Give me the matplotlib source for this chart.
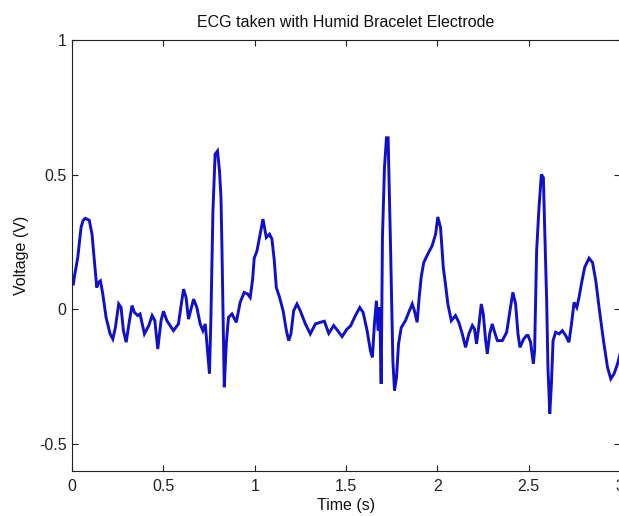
import matplotlib
matplotlib.use("Agg")
import matplotlib.pyplot as plt
from matplotlib.ticker import FuncFormatter

plt.rcParams['font.family'] = ['Liberation Sans', 'DejaVu Sans']
plt.rcParams['axes.unicode_minus'] = False

title = "ECG taken with Humid Bracelet Electrode"
x_label = "Time (s)"
y_label = "Voltage (V)"

time_s = [
    0.007, 0.012, 0.031, 0.049, 0.060, 0.072, 0.094, 0.109, 0.122, 0.135,
    0.144, 0.155, 0.168, 0.186, 0.208, 0.223, 0.237, 0.255, 0.268, 0.281,
    0.296, 0.314, 0.328, 0.341, 0.359, 0.372, 0.396, 0.420, 0.438, 0.453,
    0.469, 0.487, 0.500, 0.519, 0.555, 0.582, 0.610, 0.624, 0.637, 0.665,
    0.683, 0.701, 0.716, 0.729, 0.738, 0.752, 0.760, 0.771, 0.783, 0.796,
    0.807, 0.815, 0.820, 0.826, 0.833, 0.844, 0.856, 0.875, 0.899, 0.920,
    0.942, 0.961, 0.975, 0.988, 0.997, 1.012, 1.026, 1.045, 1.063, 1.081,
    1.094, 1.107, 1.118, 1.136, 1.155, 1.173, 1.186, 1.198, 1.213, 1.231,
    1.249, 1.277, 1.304, 1.332, 1.359, 1.381, 1.405, 1.432, 1.454, 1.478,
    1.505, 1.524, 1.551, 1.575, 1.593, 1.615, 1.633, 1.644, 1.655, 1.666,
    1.675, 1.684, 1.692, 1.699, 1.710, 1.721, 1.730, 1.737, 1.743, 1.748,
    1.756, 1.765, 1.776, 1.787, 1.802, 1.825, 1.843, 1.862, 1.874, 1.889,
    1.900, 1.911, 1.925, 1.947, 1.971, 1.990, 2.002, 2.017, 2.032, 2.044,
    2.057, 2.076, 2.099, 2.117, 2.136, 2.154, 2.172, 2.191, 2.203, 2.214,
    2.227, 2.240, 2.251, 2.264, 2.273, 2.286, 2.300, 2.313, 2.328, 2.355,
    2.379, 2.397, 2.413, 2.428, 2.441, 2.452, 2.472, 2.488, 2.496, 2.510,
    2.525, 2.532, 2.543, 2.556, 2.569, 2.580, 2.587, 2.598, 2.605, 2.615,
    2.624, 2.633, 2.647, 2.666, 2.684, 2.702, 2.720, 2.734, 2.748, 2.763,
    2.775, 2.788, 2.806, 2.830, 2.849, 2.867, 2.885, 2.909, 2.931, 2.949,
    2.967, 2.986, 3.000,
]

voltage_v = [
    0.094, 0.119, 0.193, 0.304, 0.330, 0.338, 0.331, 0.279, 0.180, 0.081,
    0.100, 0.106, 0.057, -0.030, -0.091, -0.110, -0.067, 0.020, 0.007, -0.079,
    -0.122, -0.042, 0.014, -0.011, -0.023, -0.017, -0.091, -0.060, -0.023, -0.042,
    -0.147, -0.042, -0.007, -0.042, -0.079, -0.054, 0.075, 0.044, -0.036, 0.038,
    0.007, -0.054, -0.079, -0.054, -0.128, -0.239, -0.030, 0.366, 0.576, 0.588,
    0.514, 0.415, 0.242, -0.005, -0.289, -0.128, -0.030, -0.017, -0.048, 0.026,
    0.063, 0.057, 0.044, 0.110, 0.190, 0.217, 0.267, 0.335, 0.267, 0.279,
    0.261, 0.180, 0.081, 0.044, -0.005, -0.079, -0.116, -0.091, -0.005, 0.020,
    -0.005, -0.054, -0.091, -0.054, -0.048, -0.044, -0.089, -0.060, -0.079, -0.101,
    -0.073, -0.062, -0.023, 0.007, -0.011, -0.079, -0.153, -0.178, -0.054, 0.032,
    -0.079, 0.007, -0.276, 0.267, 0.526, 0.637, 0.637, 0.427, 0.242, 0.069,
    -0.190, -0.301, -0.252, -0.128, -0.067, -0.042, -0.011, 0.020, -0.005, -0.048,
    0.044, 0.119, 0.174, 0.205, 0.236, 0.279, 0.343, 0.304, 0.156, 0.094,
    0.020, -0.042, -0.023, -0.048, -0.091, -0.141, -0.091, -0.060, -0.073, -0.128,
    -0.060, 0.020, -0.017, -0.116, -0.165, -0.091, -0.054, -0.085, -0.116, -0.116,
    -0.085, -0.005, 0.063, 0.020, -0.091, -0.141, -0.110, -0.097, -0.097, -0.122,
    -0.202, -0.153, 0.217, 0.378, 0.501, 0.489, 0.304, 0.032, -0.215, -0.387,
    -0.276, -0.116, -0.085, -0.091, -0.079, -0.097, -0.122, -0.054, 0.026, 0.007,
    0.044, 0.094, 0.156, 0.190, 0.174, 0.106, 0.007, -0.116, -0.215, -0.258,
    -0.239, -0.202, -0.165,
]

x_ticks = [0, 0.5, 1, 1.5, 2, 2.5, 3]
y_ticks = [-0.5, 0, 0.5, 1]

fig = plt.figure(figsize=(6.19, 5.16), dpi=100)
ax = fig.add_axes([72.1 / 619, 45 / 516, 548 / 619, 431 / 516])

ax.plot(time_s, voltage_v, color='#1010cc', linewidth=2.1, solid_joinstyle='miter')

ax.set_xlim(0, 3)
ax.set_ylim(-0.6, 1)
ax.set_xticks(x_ticks)
ax.set_yticks(y_ticks)
fmt = FuncFormatter(lambda v, p: ('%g' % v))
ax.xaxis.set_major_formatter(fmt)
ax.yaxis.set_major_formatter(fmt)

ax.tick_params(direction='in', length=4.5, width=0.8, top=True, right=True,
               labelsize=11.5, colors='#222222')
ax.tick_params(axis='x', pad=5.5)
ax.tick_params(axis='y', pad=4)
for s in ax.spines.values():
    s.set_linewidth(0.8)
    s.set_color('#222222')

ax.set_title(title, fontsize=11.5, pad=9, color='#111111')
ax.set_xlabel(x_label, fontsize=11.5, labelpad=3, color='#111111')
ax.set_ylabel(y_label, fontsize=11.5, labelpad=7, color='#111111')

fig.savefig('out.png', dpi=100)
